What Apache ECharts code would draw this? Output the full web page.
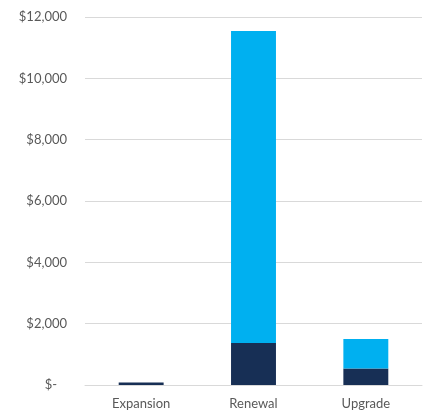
<!DOCTYPE html>
<html>
<head>
<meta charset="utf-8">
<script src="https://cdn.jsdelivr.net/npm/echarts@6/dist/echarts.min.js"></script>
<style>
  html, body { margin: 0; padding: 0; background: #fff; }
  #chart { width: 430px; height: 419px; }
</style>
</head>
<body>
<div id="chart"></div>
<script>
// Deal types on the x axis
const categories = ['Expansion', 'Renewal', 'Upgrade'];
// Stacked amounts per deal type
const baseValues = [80, 1370, 540];
const topValues = [0, 10170, 960];
// Value axis ticks
const yTicks = [0, 2000, 4000, 6000, 8000, 10000, 12000];

const chart = echarts.init(document.getElementById('chart'));
const fontFamily = 'Lato, "Open Sans", sans-serif';

function money(v) {
  if (v === 0) return '$-   ';
  return '$' + v.toLocaleString('en-US');
}

chart.setOption({
  animation: false,
  grid: { left: 85, right: 8, top: 17, bottom: 34 },
  xAxis: {
    type: 'category',
    data: categories,
    axisTick: { show: false },
    axisLine: { lineStyle: { color: '#d9d9d9', width: 1 } },
    axisLabel: { color: '#595959', fontSize: 13, fontFamily: fontFamily, margin: 12 }
  },
  yAxis: {
    type: 'value',
    min: yTicks[0],
    max: yTicks[yTicks.length - 1],
    interval: yTicks[1] - yTicks[0],
    axisLine: { show: false },
    axisTick: { show: false },
    splitLine: { lineStyle: { color: '#d9d9d9', width: 1 } },
    axisLabel: { color: '#595959', fontSize: 13, fontFamily: fontFamily, margin: 18, formatter: money }
  },
  series: [
    {
      type: 'bar',
      stack: 'total',
      data: baseValues,
      barWidth: '40%',
      itemStyle: { color: '#172f55' }
    },
    {
      type: 'bar',
      stack: 'total',
      data: topValues,
      barWidth: '40%',
      itemStyle: { color: '#00b0f0' }
    }
  ]
});
</script>
</body>
</html>
